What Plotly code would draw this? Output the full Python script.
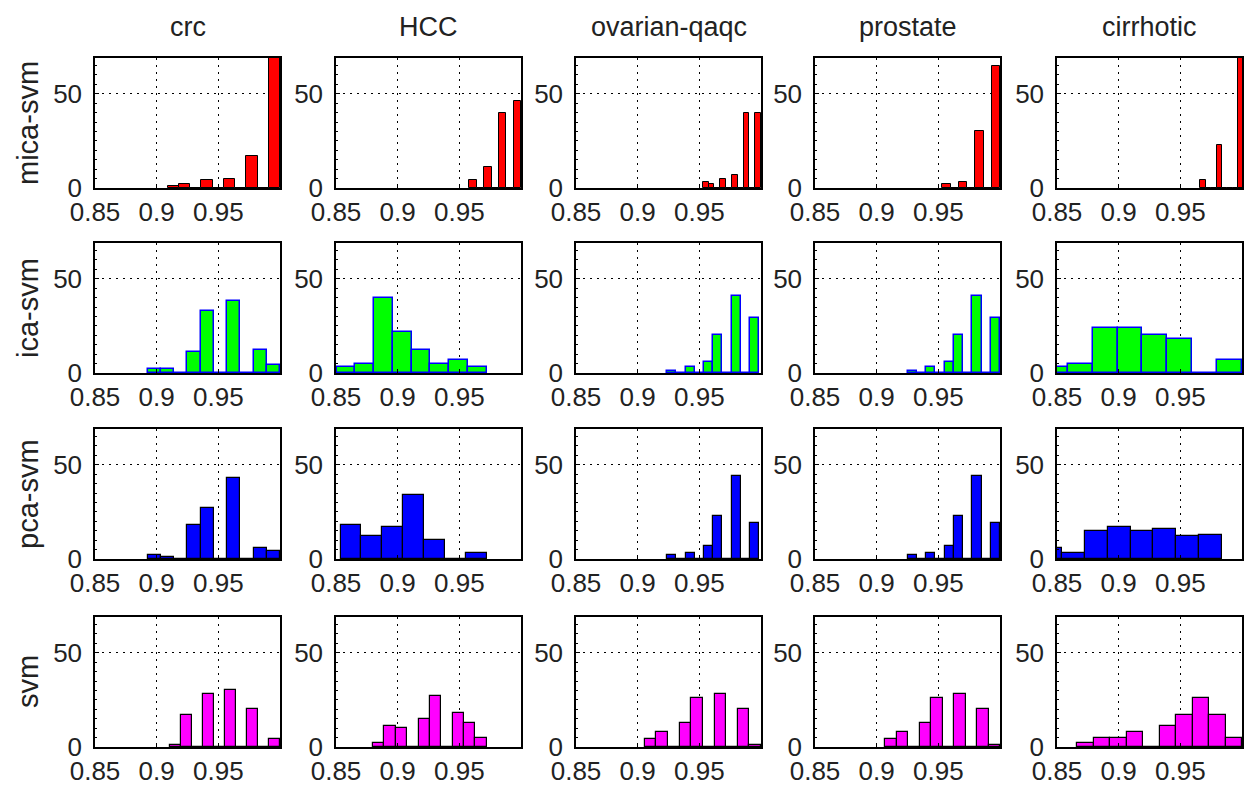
import plotly.graph_objects as go

# ---------------- data ----------------
datasets = ["crc", "HCC", "ovarian-qaqc", "prostate", "cirrhotic"]
methods = ["mica-svm", "ica-svm", "pca-svm", "svm"]

x_tick_vals = [0.85, 0.9, 0.95]
x_tick_text = ["0.85", "0.9", "0.95"]
y_tick_vals = [0, 50]
y_tick_text = ["0", "50"]
x_limits = [0.85, 1.0]
y_limits = [0, 69]

# histogram bins per dataset: lower edge, upper edge, counts (equal-width bins)
mica_svm_lo = [0.909, 0.9582, 0.9527, 0.9533, 0.9662]
mica_svm_hi = [1.0, 1.0, 1.0, 1.0, 1.0014]
mica_svm_counts = [
    [1, 2, 0, 4, 0, 5, 0, 17, 0, 71],
    [4, 0, 11, 0, 40, 0, 46],
    [3, 2, 0, 5, 0, 7, 0, 40, 0, 40],
    [2, 0, 3, 0, 30, 0, 65],
    [4, 0, 0, 23, 0, 0, 0, 74],
]

ica_svm_lo = [0.8926, 0.8505, 0.924, 0.925, 0.8385]
ica_svm_hi = [1.0, 0.9721, 0.9985, 1.0, 1.0]
ica_svm_counts = [
    [2, 2, 0, 11, 33, 0, 38, 0, 12, 4],
    [3, 5, 40, 22, 12, 5, 7, 3],
    [1, 0, 3, 0, 6, 20, 0, 41, 0, 29],
    [1, 0, 3, 0, 6, 20, 0, 41, 0, 29],
    [3, 5, 24, 24, 20, 18, 0, 7],
]

pca_svm_lo = [0.8926, 0.8537, 0.924, 0.925, 0.8355]
pca_svm_hi = [1.0, 0.9721, 0.9985, 1.0, 0.9837]
pca_svm_counts = [
    [2, 1, 0, 18, 27, 0, 43, 0, 6, 4],
    [18, 12, 17, 34, 10, 0, 3],
    [2, 0, 3, 0, 7, 23, 0, 44, 0, 19],
    [2, 0, 3, 0, 7, 23, 0, 44, 0, 19],
    [6, 3, 15, 17, 15, 16, 12, 13],
]

svm_lo = [0.911, 0.8801, 0.9058, 0.907, 0.8663]
svm_hi = [1.0, 0.9721, 1.0, 1.0, 1.0]
svm_counts = [
    [1, 17, 0, 28, 0, 30, 0, 20, 0, 4],
    [2, 11, 10, 0, 15, 27, 0, 18, 13, 5],
    [4, 8, 0, 13, 26, 0, 28, 0, 20, 1],
    [4, 8, 0, 13, 26, 0, 28, 0, 20, 1],
    [2, 5, 5, 8, 0, 11, 17, 26, 17, 5],
]

# ---------------- styling ----------------
row_bins = [
    (mica_svm_lo, mica_svm_hi, mica_svm_counts),
    (ica_svm_lo, ica_svm_hi, ica_svm_counts),
    (pca_svm_lo, pca_svm_hi, pca_svm_counts),
    (svm_lo, svm_hi, svm_counts),
]
fill_colors = ["#ff0000", "#00ff00", "#0000ff", "#ff00ff"]
edge_colors = ["#000000", "#0000ff", "#000000", "#000000"]
edge_widths = [1.0, 1.5, 1.2, 1.2]

W, H = 1245, 786
col_left = [95, 336, 576, 815, 1057]
panel_w = 185
row_top = [58, 243, 429, 617]
panel_h = 130

FONT = "Liberation Sans, Arial, sans-serif"
TXT = "#222222"

fig = go.Figure()
layout = dict(
    width=W, height=H, autosize=False,
    margin=dict(l=0, r=0, t=0, b=0, pad=0, autoexpand=False),
    paper_bgcolor="white", plot_bgcolor="white",
    showlegend=False,
    bargap=0,
    font=dict(family=FONT, color=TXT),
)

annotations = []
for r in range(4):
    lo_list, hi_list, cnt_list = row_bins[r]
    for c in range(5):
        idx = r * 5 + c + 1
        counts = cnt_list[c]
        n = len(counts)
        w = (hi_list[c] - lo_list[c]) / n
        centers = [lo_list[c] + (i + 0.5) * w for i in range(n)]
        xa = "x" if idx == 1 else f"x{idx}"
        ya = "y" if idx == 1 else f"y{idx}"
        fig.add_trace(go.Bar(
            x=centers, y=counts, width=[w] * n,
            marker=dict(color=fill_colors[r],
                        line=dict(color=edge_colors[r], width=edge_widths[r])),
            xaxis=xa, yaxis=ya, hoverinfo="x+y",
        ))
        x0 = col_left[c] / W
        x1 = (col_left[c] + panel_w) / W
        y1 = 1 - row_top[r] / H
        y0 = 1 - (row_top[r] + panel_h) / H
        axkw = dict(showline=True, mirror=True, linecolor="black", linewidth=1.5,
                    showgrid=True, gridcolor="black", gridwidth=1,
                    griddash="2px,5px", zeroline=False, automargin=False,
                    ticks="inside", ticklen=4, tickcolor="black",
                    tickfont=dict(family=FONT, size=26, color=TXT),
                    fixedrange=True)
        layout["xaxis" if idx == 1 else f"xaxis{idx}"] = dict(
            domain=[x0, x1], range=x_limits, anchor=ya,
            tickmode="array", tickvals=x_tick_vals, ticktext=x_tick_text,
            ticklabelstandoff=0, **axkw)
        layout["yaxis" if idx == 1 else f"yaxis{idx}"] = dict(
            domain=[y0, y1], range=y_limits, anchor=xa,
            tickmode="array", tickvals=y_tick_vals, ticktext=y_tick_text,
            ticklabelstandoff=6,
            minor=dict(ticks="inside", ticklen=2, dtick=5, tickcolor="black", showgrid=False),
            **axkw)

for c, name in enumerate(datasets):
    annotations.append(dict(
        text=name, x=(col_left[c] + panel_w / 2) / W, y=1 - 27 / H,
        xref="paper", yref="paper", showarrow=False,
        xanchor="center", yanchor="middle",
        font=dict(family=FONT, size=27, color=TXT)))
for r, name in enumerate(methods):
    annotations.append(dict(
        text=name, x=28 / W, y=1 - (row_top[r] + panel_h / 2) / H,
        xref="paper", yref="paper", showarrow=False, textangle=-90,
        xanchor="center", yanchor="middle",
        font=dict(family=FONT, size=29, color=TXT)))

layout["annotations"] = annotations
fig.update_layout(**layout)
fig.write_html("out.html", include_plotlyjs=True, full_html=True,
               config={"displayModeBar": False, "staticPlot": False},
               post_script="document.body.style.margin='0px';document.body.style.overflow='hidden';")
